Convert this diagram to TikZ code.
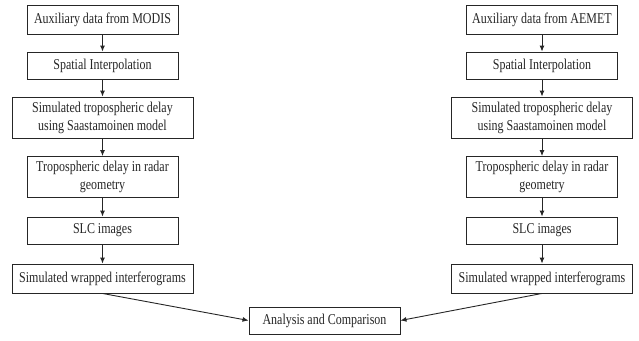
\documentclass[tikz,border=0pt]{standalone}
\usepackage{fontspec}
\setmainfont[FakeStretch=0.8]{Liberation Serif}
\usetikzlibrary{arrows.meta}
\begin{document}
\begin{tikzpicture}[x=1pt,y=-1pt,
  box/.style={draw=black!85, line width=0.9pt, fill=white, align=center, inner sep=0pt,
    font=\fontsize{15}{18}\selectfont, text=black!85},
  nbox/.style={box, minimum width=151pt},
  wbox/.style={box, minimum width=181pt},
  flow/.style={draw=black!85, line width=0.9pt, -{Latex[length=6pt,width=5pt]}}]
\useasboundingbox (0,0) rectangle (639,340);
% left column
\node[nbox, minimum height=29pt] (l1) at (102.5,19.5) {Auxiliary data from MODIS};
\node[nbox, minimum height=27pt] (l2) at (102.5,65.5) {Spatial Interpolation};
\node[wbox, minimum height=41pt] (l3) at (102.5,117.5) {Simulated tropospheric delay\\using Saastamoinen model};
\node[nbox, minimum height=41pt] (l4) at (102.5,177) {Tropospheric delay in radar\\geometry};
\node[nbox, minimum height=27pt] (l5) at (102.5,230.5) {SLC images};
\node[wbox, minimum height=29pt] (l6) at (102.5,278.5) {Simulated wrapped interferograms};
% right column
\node[nbox, minimum height=29pt] (r1) at (542,19.5) {Auxiliary data from AEMET};
\node[nbox, minimum height=27pt] (r2) at (542,65.5) {Spatial Interpolation};
\node[wbox, minimum height=41pt] (r3) at (542,117.5) {Simulated tropospheric delay\\using Saastamoinen model};
\node[nbox, minimum height=41pt] (r4) at (542,177) {Tropospheric delay in radar\\geometry};
\node[nbox, minimum height=27pt] (r5) at (542,230.5) {SLC images};
\node[wbox, minimum height=29pt] (r6) at (542,278.5) {Simulated wrapped interferograms};
% bottom
\node[nbox, minimum height=27pt] (an) at (324.5,320.5) {Analysis and Comparison};
% arrows
\foreach \a/\b in {l1/l2,l2/l3,l3/l4,l4/l5,l5/l6,r1/r2,r2/r3,r3/r4,r4/r5,r5/r6}
  \draw[flow] (\a.south) -- (\b.north);
\draw[flow] (l6.south) -- (an.west);
\draw[flow] (r6.south) -- (an.east);
\end{tikzpicture}
\end{document}
